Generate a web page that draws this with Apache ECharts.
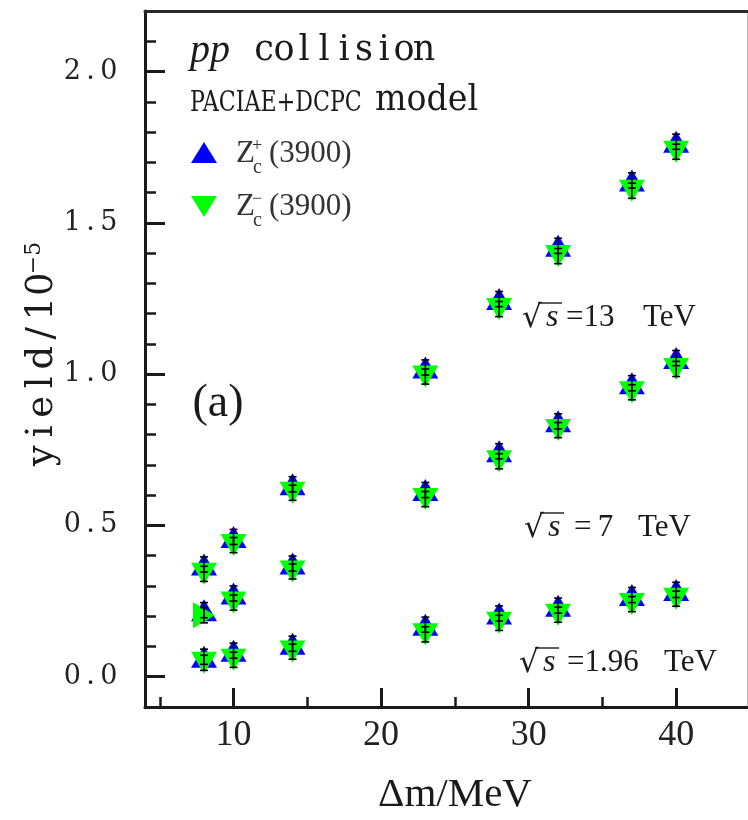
<!DOCTYPE html>
<html>
<head>
<meta charset="utf-8">
<script src="https://cdn.jsdelivr.net/npm/echarts@6/dist/echarts.min.js"></script>
<style>
  html, body { margin: 0; padding: 0; background: #ffffff; }
  #chart { width: 748px; height: 820px; }
</style>
</head>
<body>
<div id="chart"></div>
<script>
// Mass splitting Δm (MeV) at which the yields were computed
const massSplitting = [8, 10, 14, 23, 28, 32, 37, 40];

// Z_c(3900) yields in units of 1e-5, PACIAE+DCPC, pp collisions
const zPlus196  = [0.066, 0.086, 0.109, 0.172, 0.209, 0.235, 0.270, 0.287];
const zMinus196 = [0.046, 0.056, 0.083, 0.140, 0.178, 0.205, 0.240, 0.258];
const zPlus7    = [0.220, 0.275, 0.374, 0.617, 0.745, 0.844, 0.970, 1.053];
const zMinus7   = [0.203, 0.245, 0.348, 0.587, 0.712, 0.815, 0.940, 1.017];
const zPlus13   = [0.371, 0.462, 0.636, 1.022, 1.248, 1.424, 1.640, 1.768];
const zMinus13  = [0.340, 0.435, 0.608, 0.992, 1.215, 1.390, 1.606, 1.735];

// statistical error attached to every yield
const yieldError = 0.025;

// axis ticks
const xMajorTicks = [10, 20, 30, 40];
const xMinorTicks = [5, 15, 25, 35];
const yMajorTicks = [0.0, 0.5, 1.0, 1.5, 2.0];
const yMinorTicks = [0.1, 0.2, 0.3, 0.4, 0.6, 0.7, 0.8, 0.9, 1.1, 1.2, 1.3, 1.4, 1.6, 1.7, 1.8, 1.9, 2.1];

const BLUE = '#0000ff';
const GREEN = '#00ff00';
const INK = '#1a1a1a';
const DJ = '"DejaVu Serif", "Liberation Serif", serif';

function points(values) {
  return massSplitting.map((m, i) => [m, values[i]]);
}
function errorRows(values) {
  return massSplitting.map((m, i) => [m, values[i] - yieldError, values[i] + yieldError]);
}

// every character in its own fixed-width cell (typewriter-like spacing with a serif face)
function cells(str, token) {
  return str.split('').map(ch => '{' + token + '|' + ch + '}').join('');
}

function upSeries(values) {
  return {
    type: 'scatter', data: points(values), symbol: 'triangle', symbolSize: [26, 22],
    itemStyle: { color: BLUE, opacity: 1 }, z: 3, silent: true
  };
}
function downSeries(values, oddIndex) {
  const data = points(values).map((p, i) =>
    i === oddIndex ? { value: p, symbolRotate: -90 } : p);
  return {
    type: 'scatter', data: data, symbol: 'triangle', symbolSize: [26, 22], symbolRotate: 180,
    itemStyle: { color: GREEN, opacity: 1 }, z: 4, silent: true
  };
}
function errorSeries(values) {
  return {
    type: 'custom', data: errorRows(values), z: 5, silent: true,
    encode: { x: 0, y: [1, 2] },
    renderItem: function (params, api) {
      const x = api.value(0);
      const lo = api.coord([x, api.value(1)]);
      const hi = api.coord([x, api.value(2)]);
      const cap = 4;
      const st = { stroke: '#000', lineWidth: 1.6 };
      return {
        type: 'group',
        children: [
          { type: 'line', shape: { x1: hi[0], y1: hi[1], x2: lo[0], y2: lo[1] }, style: st },
          { type: 'line', shape: { x1: hi[0] - cap, y1: hi[1], x2: hi[0] + cap, y2: hi[1] }, style: st },
          { type: 'line', shape: { x1: lo[0] - cap, y1: lo[1], x2: lo[0] + cap, y2: lo[1] }, style: st }
        ]
      };
    }
  };
}

const X_MIN = 4, X_MAX = 44.8, Y_MIN = -0.1, Y_MAX = 2.2;

function xAxisBase(extra) {
  return Object.assign({
    type: 'value', min: X_MIN, max: X_MAX, position: 'bottom',
    axisLine: { show: false, onZero: false },
    axisTick: { show: false }, axisLabel: { show: false }, splitLine: { show: false }
  }, extra);
}
function yAxisBase(extra) {
  return Object.assign({
    type: 'value', min: Y_MIN, max: Y_MAX, position: 'left',
    axisLine: { show: false, onZero: false },
    axisTick: { show: false }, axisLabel: { show: false }, splitLine: { show: false }
  }, extra);
}

// free-standing text: titles, legend, energy labels
const graphics = [];
function txt(x, y, text, font, opts) {
  graphics.push(Object.assign({
    type: 'text', x: x, y: y, silent: true,
    style: Object.assign({ text: text, font: font, fill: INK, align: 'left', verticalAlign: 'middle' },
      (opts && opts.style) || {})
  }, (opts && opts.el) || {}));
}
function cellTxt(x, y, str, fontSize, cell) {
  graphics.push({
    type: 'text', x: x, y: y, silent: true,
    style: {
      text: cells(str, 'k'), align: 'left', verticalAlign: 'middle', fill: INK,
      rich: { k: { fontFamily: DJ, fontSize: fontSize, width: cell, align: 'center', fill: INK } }
    }
  });
}

// header lines
txt(190, 51, 'pp', 'italic 40px "Liberation Serif"');
cellTxt(254, 51, 'collision', 35, 20);
txt(190, 104, 'PACIAE+DCPC', '27px "DejaVu Serif"', { el: { scaleX: 0.82 } });
txt(375, 101, 'model', '35px "DejaVu Serif"', { el: { scaleX: 0.95 } });

// legend
graphics.push({ type: 'polygon', silent: true, shape: { points: [[191, 163], [217, 163], [204, 142]] }, style: { fill: BLUE } });
graphics.push({ type: 'polygon', silent: true, shape: { points: [[191, 196], [217, 196], [204, 217]] }, style: { fill: GREEN } });
[[154, '+'], [207, '\u2212']].forEach(function (row) {
  const y = row[0];
  txt(236, y, 'Z', '31px "Liberation Serif"', { style: { fill: '#333' } });
  txt(252, y - 8, row[1], '18px "Liberation Serif"', { style: { fill: '#333' } });
  txt(253, y + 14, 'c', '20px "Liberation Serif"', { style: { fill: '#333' } });
  txt(269, y, '(3900)', '31px "Liberation Serif"', { style: { fill: '#333' } });
});

// panel tag
txt(218, 404, '(a)', '46px "Liberation Serif"', { style: { align: 'center' } });

// collision energies
const energyLabels = [
  { x: 522, y: 318, num: '=13', numX: 566, tevX: 643 },
  { x: 524, y: 528, num: '=\u20097', numX: 574, tevX: 638 },
  { x: 519, y: 663, num: '=1.96', numX: 567, tevX: 664 }
];
energyLabels.forEach(function (e) {
  txt(e.x, e.y + 1, '\u221A', '31px "DejaVu Serif"');
  txt(e.x + 24, e.y, 's', 'italic 32px "Liberation Serif"');
  graphics.push({
    type: 'line', silent: true,
    shape: { x1: e.x + 16, y1: e.y - 15, x2: e.x + 40, y2: e.y - 15 },
    style: { stroke: INK, lineWidth: 1.4 }
  });
  txt(e.numX, e.y, e.num, '31px "Liberation Serif"');
  txt(e.tevX, e.y, 'TeV', '31px "Liberation Serif"');
});

// axis titles
txt(455, 795, '\u0394m/MeV', '41px "Liberation Serif"', { style: { align: 'center' } });
graphics.push({
  type: 'text', x: 42, y: 356, rotation: Math.PI / 2, silent: true,
  style: {
    text: cells('yield/10', 'a') + '{b|\u22125}', align: 'center', verticalAlign: 'middle', fill: INK,
    rich: {
      a: { fontFamily: DJ, fontSize: 37, width: 24.5, align: 'center', fill: INK },
      b: { fontFamily: DJ, fontSize: 22, fill: INK, verticalAlign: 'top', align: 'center', width: 28 }
    }
  }
});

const chart = echarts.init(document.getElementById('chart'), null, { renderer: 'canvas' });
chart.setOption({
  backgroundColor: '#ffffff',
  animation: false,
  grid: { left: 145, right: 1, top: 11, bottom: 113, containLabel: false, outerBoundsMode: 'none' },
  xAxis: [
    xAxisBase({
      axisLine: { show: true, onZero: false, lineStyle: { color: INK, width: 3 } },
      axisTick: { show: true, inside: true, length: 19, customValues: xMajorTicks, lineStyle: { color: INK, width: 3 } },
      axisLabel: {
        show: true, customValues: xMajorTicks, margin: 11,
        fontFamily: 'Liberation Serif', fontSize: 36, color: '#222'
      }
    }),
    xAxisBase({
      axisTick: { show: true, inside: true, length: 10, customValues: xMinorTicks, lineStyle: { color: INK, width: 2.5 } }
    }),
    xAxisBase({
      position: 'top',
      axisLine: { show: true, onZero: false, lineStyle: { color: '#2a2a2a', width: 3 } }
    })
  ],
  yAxis: [
    yAxisBase({
      axisLine: { show: true, onZero: false, lineStyle: { color: INK, width: 3 } },
      axisTick: { show: true, inside: true, length: 20, customValues: yMajorTicks, lineStyle: { color: INK, width: 3 } },
      axisLabel: {
        show: true, customValues: yMajorTicks, margin: 27,
        formatter: function (v) { return cells(v.toFixed(1), 'd'); },
        rich: { d: { fontFamily: DJ, fontSize: 27, width: 18.3, align: 'center', color: '#222' } }
      }
    }),
    yAxisBase({
      axisTick: { show: true, inside: true, length: 11, customValues: yMinorTicks, lineStyle: { color: INK, width: 2.5 } }
    }),
    yAxisBase({
      position: 'right',
      axisLine: { show: true, onZero: false, lineStyle: { color: '#bbbbbb', width: 1 } }
    })
  ],
  graphic: { elements: graphics },
  series: [
    upSeries(zPlus196), upSeries(zPlus7), upSeries(zPlus13),
    downSeries(zMinus196, -1), downSeries(zMinus7, 0), downSeries(zMinus13, -1),
    errorSeries(zPlus196), errorSeries(zPlus7), errorSeries(zPlus13),
    errorSeries(zMinus196), errorSeries(zMinus7), errorSeries(zMinus13)
  ]
});
</script>
</body>
</html>
